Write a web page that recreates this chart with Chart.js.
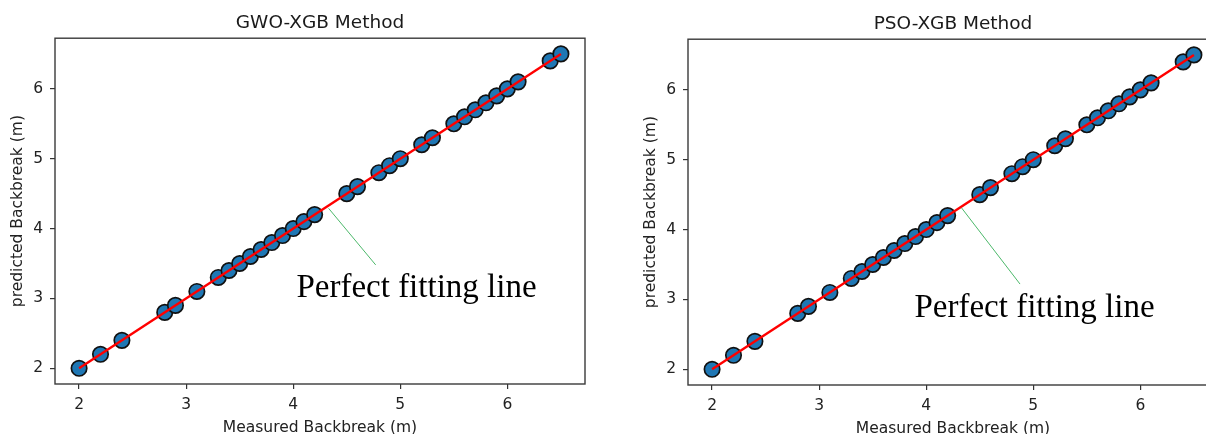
<!DOCTYPE html>
<html>
<head>
<meta charset="utf-8">
<script src="https://cdn.jsdelivr.net/npm/chart.js@4.4.0/dist/chart.umd.min.js"></script>
<style>
  html, body { margin: 0; padding: 0; background: #fff; overflow: hidden; width: 1206px; height: 434px; }
  .box { position: absolute; width: 600px; height: 434px; }
  #b1 { left: 0px; top: 0px; }
  #b2 { left: 633px; top: 1px; }
</style>
</head>
<body>
<div class="box" id="b1"><canvas id="c1"></canvas></div>
<div class="box" id="b2"><canvas id="c2"></canvas></div>
<script>
// ---- data ----
const measured = [2.0, 2.2, 2.4, 2.8, 2.9, 3.1, 3.3, 3.4, 3.5, 3.6, 3.7, 3.8, 3.9, 4.0, 4.1, 4.2,
                  4.5, 4.6, 4.8, 4.9, 5.0, 5.2, 5.3, 5.5, 5.6, 5.7, 5.8, 5.9, 6.0, 6.1, 6.4, 6.5];
const predictedGWO = [2.0, 2.2, 2.4, 2.8, 2.9, 3.1, 3.3, 3.4, 3.5, 3.6, 3.7, 3.8, 3.9, 4.0, 4.1, 4.2,
                      4.5, 4.6, 4.8, 4.9, 5.0, 5.2, 5.3, 5.5, 5.6, 5.7, 5.8, 5.9, 6.0, 6.1, 6.4, 6.5];
const predictedPSO = [2.0, 2.2, 2.4, 2.8, 2.9, 3.1, 3.3, 3.4, 3.5, 3.6, 3.7, 3.8, 3.9, 4.0, 4.1, 4.2,
                      4.5, 4.6, 4.8, 4.9, 5.0, 5.2, 5.3, 5.5, 5.6, 5.7, 5.8, 5.9, 6.0, 6.1, 6.4, 6.5];
const fitLine = [2.0, 6.5];
const xTicks = [2, 3, 4, 5, 6];
const yTicks = [2, 3, 4, 5, 6];
const axisRange = [1.775, 6.725];
const titles = ['GWO-XGB Method', 'PSO-XGB Method'];
const xLabel = 'Measured Backbreak (m)';
const yLabel = 'predicted Backbreak (m)';
const annotText = 'Perfect fitting line';
// annotation: [x1, y1, x2, y2] of pointer line, [x, y] of text baseline-left (data units)
const annotLineGWO = [4.33, 4.29, 4.77, 3.48];
const annotTextGWO = [4.03, 3.02];
const annotLinePSO = [4.33, 4.31, 4.876, 3.22];
const annotTextPSO = [3.89, 2.745];

const FONT = 'DejaVu Sans';

const boxAndAnnot = {
  id: 'boxAndAnnot',
  afterDatasetsDraw(chart, args, opts) {
    const ctx = chart.ctx;
    const a = chart.chartArea;
    const xs = chart.scales.x, ys = chart.scales.y;
    ctx.save();
    // annotation pointer line
    const L = opts.line;
    ctx.strokeStyle = '#4cb86a';
    ctx.lineWidth = 1;
    ctx.beginPath();
    ctx.moveTo(xs.getPixelForValue(L[0]), ys.getPixelForValue(L[1]));
    ctx.lineTo(xs.getPixelForValue(L[2]), ys.getPixelForValue(L[3]));
    ctx.stroke();
    // annotation text
    ctx.fillStyle = '#000';
    ctx.font = '33px "Liberation Serif"';
    ctx.textBaseline = 'alphabetic';
    ctx.textAlign = 'left';
    ctx.fillText(opts.text, xs.getPixelForValue(opts.pos[0]), ys.getPixelForValue(opts.pos[1]));
    // frame
    ctx.strokeStyle = '#3a3a3a';
    ctx.lineWidth = 1.4;
    ctx.strokeRect(a.left, a.top, a.right - a.left, a.bottom - a.top);
    ctx.restore();
  }
};

function makeChart(id, title, pred, annLine, annPos) {
  const pts = measured.map((m, i) => ({ x: m, y: pred[i] }));
  const line = fitLine.map(v => ({ x: v, y: v }));
  return new Chart(document.getElementById(id), {
    type: 'scatter',
    data: {
      datasets: [
        {
          type: 'line', data: line, borderColor: '#ff0000', borderWidth: 2.4,
          pointRadius: 0, fill: false, order: 0
        },
        {
          data: pts, backgroundColor: '#1f77b4', borderColor: '#111111',
          borderWidth: 1.7, pointRadius: 7.7, order: 1
        }
      ]
    },
    options: {
      responsive: true,
      maintainAspectRatio: false,
      devicePixelRatio: 1,
      animation: false,
      events: [],
      layout: { padding: { top: 0, right: 15, left: 0, bottom: 0 } },
      plugins: {
        legend: { display: false },
        tooltip: { enabled: false },
        title: {
          display: true, text: title, fullSize: false, color: '#1a1a1a',
          font: { family: FONT, size: 18.5, weight: 'normal', lineHeight: 1.2 },
          padding: { top: 12, bottom: 4 }
        },
        boxAndAnnot: { line: annLine, pos: annPos, text: annotText }
      },
      scales: {
        x: {
          type: 'linear', min: axisRange[0], max: axisRange[1],
          afterBuildTicks: s => { s.ticks = xTicks.map(v => ({ value: v })); },
          afterFit: s => { s.height = 50; },
          grid: { drawOnChartArea: false, drawTicks: true, tickLength: 5, color: '#333', lineWidth: 1.2 },
          border: { display: false },
          ticks: { color: '#222', padding: 7, font: { family: FONT, size: 15.5 } },
          title: { display: true, text: xLabel, color: '#222', padding: 0,
                   font: { family: FONT, size: 15.5, lineHeight: 0.75 } }
        },
        y: {
          type: 'linear', min: axisRange[0], max: axisRange[1],
          afterBuildTicks: s => { s.ticks = yTicks.map(v => ({ value: v })); },
          afterFit: s => { s.width = 55; },
          grid: { drawOnChartArea: false, drawTicks: true, tickLength: 5, color: '#333', lineWidth: 1.2 },
          border: { display: false },
          ticks: { color: '#222', padding: 7, font: { family: FONT, size: 15.5 } },
          title: { display: true, text: yLabel, color: '#222', padding: 10,
                   font: { family: FONT, size: 15.5, lineHeight: 1 } }
        }
      }
    },
    plugins: [boxAndAnnot]
  });
}

makeChart('c1', titles[0], predictedGWO, annotLineGWO, annotTextGWO);
makeChart('c2', titles[1], predictedPSO, annotLinePSO, annotTextPSO);
</script>
</body>
</html>
